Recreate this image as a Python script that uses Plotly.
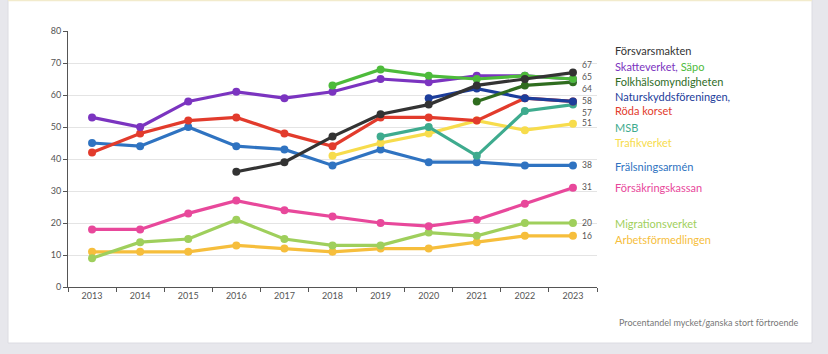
import plotly.graph_objects as go

years = [str(y) for y in range(2013, 2024)]

forsvarsmakten = [None, None, None, 36, 39, 47, 54, 57, 63, 65, 67]
skatteverket = [53, 50, 58, 61, 59, 61, 65, 64, 66, 66, 65]
sapo = [None, None, None, None, None, 63, 68, 66, 65, 66, 65]
folkhalsomyndigheten = [None, None, None, None, None, None, None, None, 58, 63, 64]
naturskydd = [None, None, None, None, None, None, None, 59, 62, 59, 58]
roda_korset = [42, 48, 52, 53, 48, 44, 53, 53, 52, 59, 58]
msb = [None, None, None, None, None, None, 47, 50, 41, 55, 57]
trafikverket = [None, None, None, None, None, 41, 45, 48, 52, 49, 51]
fralsningsarmen = [45, 44, 50, 44, 43, 38, 43, 39, 39, 38, 38]
forsakringskassan = [18, 18, 23, 27, 24, 22, 20, 19, 21, 26, 31]
migrationsverket = [9, 14, 15, 21, 15, 13, 13, 17, 16, 20, 20]
arbetsformedlingen = [11, 11, 11, 13, 12, 11, 12, 12, 14, 16, 16]

# (name, values, colour) in drawing order (bottom first)
series = [
    ("Arbetsförmedlingen", arbetsformedlingen, "#f6be3c"),
    ("Migrationsverket", migrationsverket, "#9fcf5c"),
    ("Försäkringskassan", forsakringskassan, "#e8489b"),
    ("Frälsningsarmén", fralsningsarmen, "#2f73c1"),
    ("Trafikverket", trafikverket, "#f7dc4c"),
    ("MSB", msb, "#3eab8e"),
    ("Röda korset", roda_korset, "#e23b2c"),
    ("Naturskyddsföreningen", naturskydd, "#1c3d9b"),
    ("Folkhälsomyndigheten", folkhalsomyndigheten, "#2f6d1f"),
    ("Skatteverket", skatteverket, "#7b34c0"),
    ("Säpo", sapo, "#4dbb3b"),
    ("Försvarsmakten", forsvarsmakten, "#333333"),
]
colors = {n: c for n, _, c in series}

# end-value labels: (text, label y in data units)
end_labels = [("67", 69.3), ("65", 65.6), ("64", 61.9), ("58", 58.0), ("57", 54.4),
              ("51", 51.2), ("38", 38.0), ("31", 31.2), ("20", 20.0), ("16", 16.0)]

def span(name, text=None):
    return f'<span style="color:{colors[name]}">{text or name}</span>'

# legend labels: (html text, y in data units)
legend_labels = [
    (span("Försvarsmakten"), 73.8),
    (span("Skatteverket", "Skatteverket,") + " " + span("Säpo"), 68.8),
    (span("Folkhälsomyndigheten"), 64.1),
    (span("Naturskyddsföreningen", "Naturskyddsföreningen,"), 59.4),
    (span("Röda korset"), 55.3),
    (span("MSB"), 50.0),
    (span("Trafikverket"), 45.3),
    (span("Frälsningsarmén"), 37.8),
    (span("Försäkringskassan"), 31.2),
    (span("Migrationsverket"), 19.7),
    (span("Arbetsförmedlingen"), 15.0),
]

fig = go.Figure()
for name, vals, col in series:
    fig.add_trace(go.Scatter(
        x=years, y=vals, mode="lines+markers", name=name,
        line=dict(color=col, width=3.2), marker=dict(color=col, size=8),
        connectgaps=False, showlegend=False, hoverinfo="skip"))

L, R, T, B = 68, 231, 31, 67
W, H = 828, 354
pw, ph = W - L - R, H - T - B

def px_x(p):
    return (p - L) / pw

def px_y(p):
    return (H - B - p) / ph

annotations = []
for txt, yv in end_labels:
    annotations.append(dict(x=px_x(580), y=yv, xref="paper", yref="y", text=txt,
                            showarrow=False, xanchor="left", yanchor="middle",
                            font=dict(size=8.5, color="#555555", family="Lato")))
for txt, yv in legend_labels:
    annotations.append(dict(x=px_x(613), y=yv, xref="paper", yref="y", text=txt,
                            showarrow=False, xanchor="left", yanchor="middle",
                            font=dict(size=11, color="#333333", family="Lato")))
annotations.append(dict(x=px_x(800), y=px_y(322), xref="paper", yref="paper",
                        text="Procentandel mycket/ganska stort förtroende",
                        showarrow=False, xanchor="right", yanchor="middle",
                        font=dict(size=9, color="#777777", family="Lato")))

shapes = [
    dict(type="rect", xref="paper", yref="paper", x0=px_x(8), x1=px_x(812),
         y0=px_y(343), y1=px_y(0), fillcolor="white", line=dict(width=1, color="#dcdce2"),
         layer="below"),
    dict(type="line", xref="paper", yref="paper", x0=px_x(8), x1=px_x(812),
         y0=px_y(0.5), y1=px_y(0.5), line=dict(width=1.5, color="#f2ebcc"), layer="below"),
]

fig.update_layout(
    width=W, height=H,
    margin=dict(l=L, r=R, t=T, b=B),
    paper_bgcolor="#e7e7ec", plot_bgcolor="white",
    font=dict(family="Lato", size=9, color="#555555"),
    annotations=annotations, shapes=shapes,
    xaxis=dict(type="category", range=[-0.5, 10.5], tickson="boundaries",
               ticks="outside", ticklen=4, tickcolor="#555555",
               showline=True, linecolor="#555555", linewidth=1,
               showgrid=False, tickfont=dict(size=9, color="#555555")),
    yaxis=dict(range=[0, 80], dtick=10, ticks="outside", ticklen=4,
               tickcolor="#555555", showline=True, linecolor="#555555", linewidth=1,
               showgrid=True, gridcolor="#e4e4e4", gridwidth=1, zeroline=False,
               tickfont=dict(size=9, color="#555555")),
)

fig.write_html("out.html")
